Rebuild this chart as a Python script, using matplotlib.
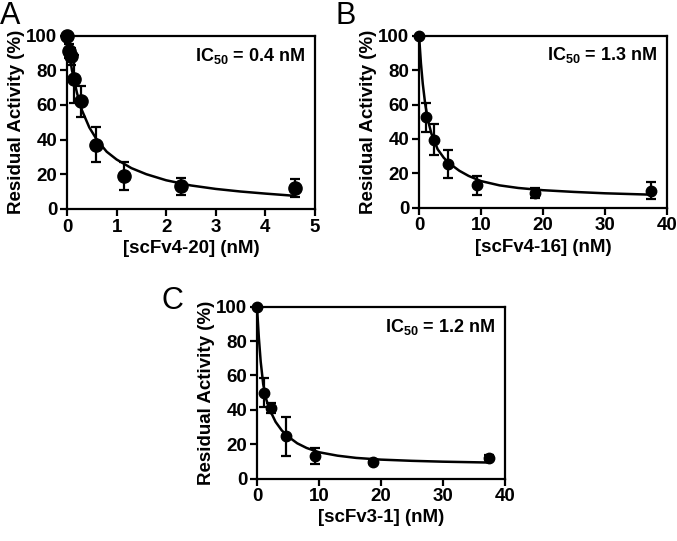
import numpy as np
import matplotlib.pyplot as plt

plt.rcParams['font.family'] = ['Liberation Sans', 'DejaVu Sans']
plt.rcParams['font.weight'] = 'bold'
plt.rcParams['mathtext.fontset'] = 'custom'
plt.rcParams['mathtext.bf'] = 'Liberation Sans:bold'
plt.rcParams['mathtext.rm'] = 'Liberation Sans:bold'

# panel A: scFv4-20
a_x = [0, 0.036, 0.072, 0.14, 0.29, 0.575, 1.15, 2.3, 4.6]
a_y = [100, 91, 88, 75, 62, 37, 19, 13, 12]
a_err = [0, 4, 5, 14, 9, 10, 8, 5, 5]
a_fit_x = [0, 0.05, 0.1, 0.2, 0.3, 0.45, 0.6, 0.8, 1.0, 1.3, 1.6, 2.0, 2.5, 3.0, 3.5, 4.0, 4.6]
a_fit_y = [100, 89, 80, 67, 57, 47, 40, 33, 28.5, 23.5, 20, 16.5, 13.5, 11.5, 10, 8.8, 7.5]

# panel B: scFv4-16
b_x = [0, 1.17, 2.34, 4.69, 9.38, 18.75, 37.5]
b_y = [100, 52.5, 39.5, 25.5, 13, 8.5, 10]
b_err = [0, 8.5, 9, 8, 5.5, 3, 5]
b_fit_x = [0, 0.3, 0.6, 1.0, 1.5, 2.0, 3.0, 4.0, 5.0, 6.5, 8, 10, 13, 16, 20, 25, 30, 37.5]
b_fit_y = [100, 84, 72, 60, 50, 43, 34, 29, 25.5, 21.5, 18.5, 15.5, 13, 11.5, 10.2, 9.2, 8.4, 7.6]

# panel C: scFv3-1
c_x = [0, 1.17, 2.34, 4.69, 9.38, 18.75, 37.5]
c_y = [100, 50, 41, 24.5, 13, 9.5, 12]
c_err = [0, 8.5, 3, 11.5, 4.5, 1, 1.5]
c_fit_x = [0, 0.3, 0.6, 1.0, 1.5, 2, 3, 4, 5, 6.5, 8, 10, 13, 16, 20, 25, 30, 37.5]
c_fit_y = [100, 82, 68, 55, 46, 40.5, 33, 28, 24.5, 20.5, 17.8, 15.3, 13.3, 12, 11, 10.3, 9.8, 9.3]

fig = plt.figure(figsize=(6.77, 5.41), dpi=100)

def panel(rect, x, y, err, fx, fy, xmax, xstep, xlabel, ic50, letter, ms):
    ax = fig.add_axes(rect)
    ax.plot(fx, fy, 'k-', lw=1.8, clip_on=False, zorder=2)
    cont = ax.errorbar(x, y, yerr=err, fmt='o', color='k', ms=ms, capsize=3.5,
                       elinewidth=1.6, capthick=1.6, zorder=3)
    for art in cont.lines[1] + cont.lines[2]:
        art.set_clip_on(False)
    cont.lines[0].set_clip_on(False)
    ax.set_xlim(0, xmax)
    ax.set_ylim(0, 100)
    ax.set_xticks(np.arange(0, xmax + 0.1, xstep))
    ax.set_yticks([0, 20, 40, 60, 80, 100])
    for s in ax.spines.values():
        s.set_linewidth(1.6)
    ax.tick_params(direction='out', length=5, width=1.6, labelsize=13.5, pad=2)
    ax.set_xlabel(xlabel, fontsize=13.5, fontweight='bold', labelpad=3)
    ax.set_ylabel('Residual Activity (%)', fontsize=13.5, fontweight='bold', labelpad=1)
    ax.text(0.96, 0.885, r'$\mathbf{IC_{50}}$ = ' + ic50, transform=ax.transAxes,
            ha='right', va='center', fontsize=13, fontweight='bold')
    fig.text(letter[0], letter[1], letter[2], fontsize=22, fontweight='normal',
             ha='left', va='top')
    return ax

panel([0.099, 0.614, 0.366, 0.32], a_x, a_y, a_err, a_fit_x, a_fit_y, 5, 1,
      '[scFv4-20] (nM)', '0.4 nM', (0.0, 0.998, 'A'), 9.5)
panel([0.619, 0.616, 0.366, 0.318], b_x, b_y, b_err, b_fit_x, b_fit_y, 40, 10,
      '[scFv4-16] (nM)', '1.3 nM', (0.496, 0.998, 'B'), 7.5)
panel([0.3796, 0.1155, 0.366, 0.3175], c_x, c_y, c_err, c_fit_x, c_fit_y, 40, 10,
      '[scFv3-1] (nM)', '1.2 nM', (0.238, 0.472, 'C'), 7.5)

plt.savefig('out.png', dpi=100)
